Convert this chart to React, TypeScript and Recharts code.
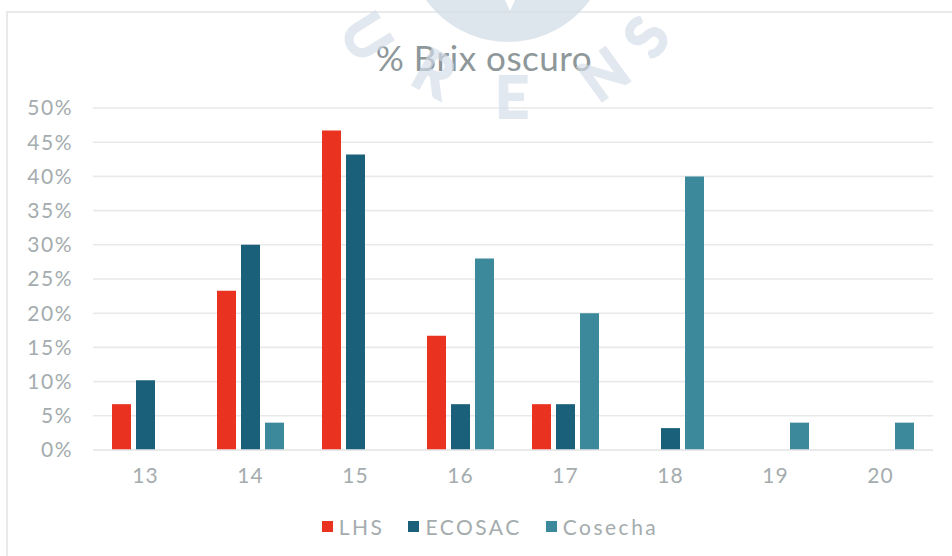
import React from 'react'
import { BarChart, Bar, XAxis, YAxis, CartesianGrid, Legend } from 'recharts'

const categories = ['13', '14', '15', '16', '17', '18', '19', '20']
const lhs = [0.067, 0.233, 0.467, 0.167, 0.067, null, null, null]
const ecosac = [0.102, 0.3, 0.432, 0.067, 0.067, 0.032, null, null]
const cosecha = [null, 0.04, null, 0.28, 0.2, 0.4, 0.04, 0.04]
const yTicks = [0, 0.05, 0.1, 0.15, 0.2, 0.25, 0.3, 0.35, 0.4, 0.45, 0.5]

const series = [
  { key: 'LHS', color: '#e9321f', values: lhs },
  { key: 'ECOSAC', color: '#1b607a', values: ecosac },
  { key: 'Cosecha', color: '#3c899c', values: cosecha },
]

const data = categories.map((c, i) => {
  const row: Record<string, string | number | null> = { name: c }
  series.forEach(s => { row[s.key] = s.values[i] })
  return row
})

const FONT = 'Lato, "Open Sans", sans-serif'
const TEXT = '#a4acae'

const LegendContent = () => (
  <div style={{ display: 'flex', justifyContent: 'center', alignItems: 'center', fontFamily: FONT, fontSize: 21, color: TEXT, letterSpacing: 2.5 }}>
    {series.map((s, i) => (
      <div key={s.key} style={{ display: 'flex', alignItems: 'center', marginLeft: i ? 24 : 0 }}>
        <span style={{ width: 11, height: 11, background: s.color, marginRight: 6, display: 'inline-block' }} />
        <span>{s.key}</span>
      </div>
    ))}
  </div>
)

// faint seal watermark sitting over the top of the image
const Watermark = () => {
  const letters = [
    { ch: 'U', x: 368, y: 36, r: 58 },
    { ch: 'R', x: 435, y: 72, r: 29 },
    { ch: 'E', x: 512, y: 95, r: 0 },
    { ch: 'N', x: 603, y: 73, r: -36 },
    { ch: 'S', x: 645, y: 36, r: -56 },
  ]
  return (
    <svg width={952} height={556} style={{ position: 'absolute', left: 0, top: 0, pointerEvents: 'none' }}>
      <circle cx={508} cy={-59} r={101} fill="#d5dfe9" opacity={0.8} />
      <path d="M505 0 L510 11 L515 0 Z" fill="#ffffff" />
      {letters.map(l => (
        <text key={l.ch} x={l.x} y={l.y} textAnchor="middle" dominantBaseline="central" fontFamily={FONT} fontWeight={400} fontSize={56}
          fill="#d3dde8" stroke="#d3dde8" strokeWidth={4} opacity={0.65} transform={`rotate(${l.r} ${l.x} ${l.y})`}>{l.ch}</text>
      ))}
    </svg>
  )
}

export default function App() {
  return (
    <div style={{ position: 'fixed', left: 0, top: 0, width: 952, height: 556, overflow: 'hidden', background: '#fff' }}>
      <div style={{ position: 'absolute', left: 6, top: 11, width: 1000, height: 600, borderTop: '2px solid #e8eaec', borderLeft: '2px solid #e8eaec' }} />
      <div style={{ position: 'absolute', left: 0, top: 36, width: 968, textAlign: 'center', fontFamily: FONT, fontSize: 35, color: '#8e979a', letterSpacing: 0.5 }}>
        % Brix oscuro
      </div>
      <div style={{ position: 'absolute', left: 0, top: 0 }}>
        <BarChart width={952} height={556} data={data} margin={{ top: 108, right: 19, bottom: 76, left: 0 }} barSize={19} barGap={5}>
          <CartesianGrid vertical={false} stroke="#e8e9ea" strokeWidth={1.6} />
          <XAxis dataKey="name" axisLine={{ stroke: '#e8e9ea', strokeWidth: 1.6 }} tickLine={false} tickSize={0} tickMargin={18}
            tick={{ fontSize: 21, fill: TEXT, fontFamily: FONT, letterSpacing: 1 }} interval={0} />
          <YAxis domain={[0, 0.5]} ticks={yTicks} width={93} axisLine={false} tickLine={false} tickSize={0} tickMargin={20}
            tick={{ fontSize: 21, fill: TEXT, fontFamily: FONT, letterSpacing: 1.5 }} tickFormatter={(v: number) => `${Math.round(v * 100)}%`} />
          <Legend layout="horizontal" verticalAlign="middle" align="center" content={<LegendContent />}
            wrapperStyle={{ position: 'absolute', top: 514, left: 14, width: 952 }} />
          {series.map(s => (
            <Bar key={s.key} dataKey={s.key} fill={s.color} isAnimationActive={false} />
          ))}
        </BarChart>
      </div>
      <Watermark />
    </div>
  )
}
